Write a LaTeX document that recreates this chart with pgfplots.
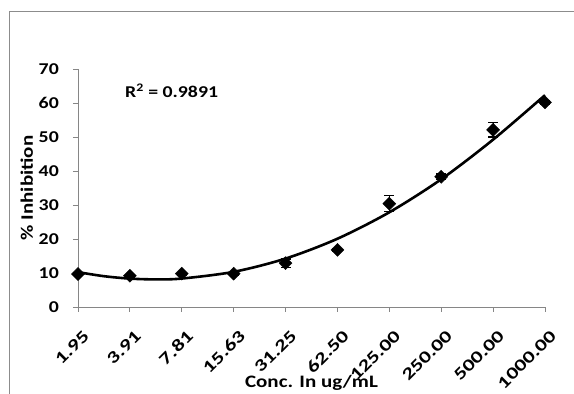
\documentclass[border=0pt]{standalone}
\usepackage{pgfplots}
\pgfplotsset{compat=1.18}
\usepackage{fontspec}
\setmainfont{Carlito}[BoldFont={Carlito Bold}, FakeStretch=1.2]
\newfontfamily\xtfont{Carlito Bold}[FakeStretch=1.33]
\definecolor{axgray}{RGB}{134,134,134}
\definecolor{framegray}{RGB}{140,140,140}
\begin{document}
\begin{tikzpicture}[x=1pt,y=1pt]
\useasboundingbox (0,0) rectangle (574,394);
\draw[framegray, line width=1.2pt] (9.5,0) -- (9.5,382.5) -- (574,382.5);
\begin{axis}[
  at={(78pt,87pt)}, anchor=south west,
  scale only axis, width=467pt, height=238pt,
  xmin=0, xmax=9, ymin=0, ymax=70,
  axis lines*=left,
  axis line style={axgray, line width=0.9pt},
  xtick={0,...,9},
  xticklabels={1.95,3.91,7.81,15.63,31.25,62.50,125.00,250.00,500.00,1000.00},
  ytick={0,10,...,70},
  tick style={axgray, line width=0.9pt},
  tick align=outside, major tick length=5pt,
  /pgf/number format/assume math mode=true,
  yticklabel style={font=\fontsize{16.5}{18}\selectfont\bfseries, inner sep=1pt, xshift=-13pt},
  xticklabel style={font=\fontsize{17}{18}\selectfont\xtfont, rotate=45, anchor=north east, inner sep=0pt, xshift=-9pt, yshift=-15pt},
  xlabel={Conc. In ug/mL},
  ylabel={\% Inhibition},
  label style={font=\fontsize{17.5}{19}\selectfont\bfseries},
  xlabel style={at={(axis description cs:0.5,0)}, anchor=base, yshift=-81pt},
  ylabel style={at={(axis description cs:-0.0964,0.5)}, anchor=base},
  clip=false,
]
% trend line (2nd order polynomial fit, sampled)
\addplot[black, line width=2.6pt, smooth, no marks] coordinates {
 (0,10.25) (0.5,9.06) (1,8.35) (1.5,8.12) (2,8.37) (3,10.34) (4,14.24)
 (5,20.08) (6,27.86) (7,37.57) (8,49.23) (9,62.3)
};
\addplot[black, only marks, mark=square*, mark size=4.6pt,
  mark options={rotate=45, fill=black},
  error bars/.cd, y dir=both, y explicit,
  error bar style={black, line width=1.2pt},
  error mark options={rotate=90, mark size=5pt, line width=1.2pt}]
coordinates {
 (0,9.7) +- (0,0.4)
 (1,9.2) +- (0,0.4)
 (2,9.8) +- (0,0.4)
 (3,9.8) +- (0,0.4)
 (4,12.9) +- (0,1.2)
 (5,16.8) +- (0,0.4)
 (6,30.4) +- (0,2.4)
 (7,38.3) +- (0,0.8)
 (8,52.1) +- (0,2.1)
 (9,60.2) +- (0,0.6)
};
\node[anchor=west, font=\fontsize{16.5}{18}\selectfont\bfseries] at (axis cs:0.84,63.6) {R\textsuperscript{2} = 0.9891};
\end{axis}
\end{tikzpicture}
\end{document}
